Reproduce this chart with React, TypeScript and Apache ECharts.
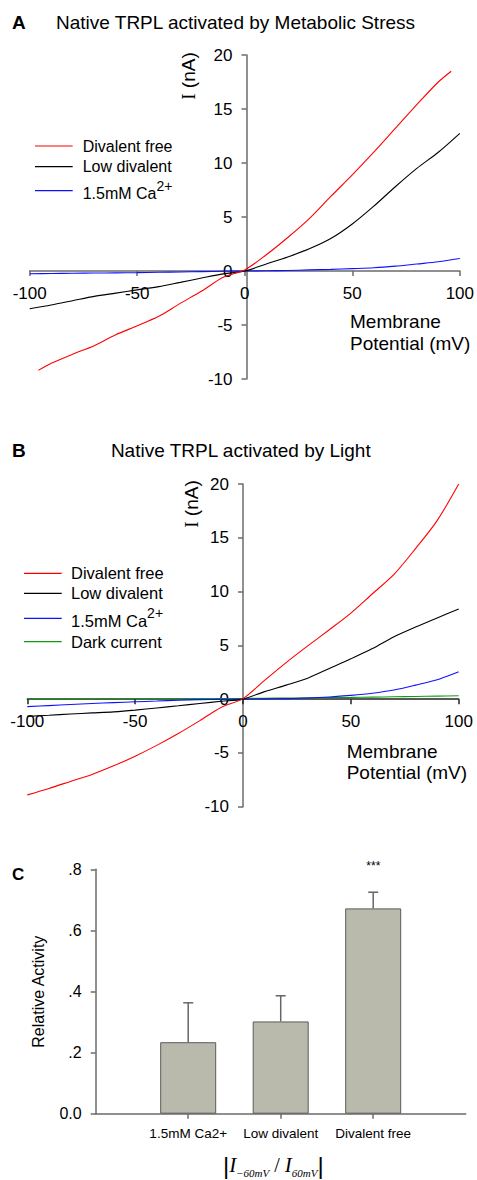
import React, { useEffect, useRef } from "react";
import * as echarts from "echarts";

// ---------- data ----------
const voltages = [-100, -90, -80, -70, -60, -50, -40, -30, -20, -10, 0, 10, 20, 30, 40, 50, 60, 70, 80, 90, 100];
const voltagesRedA = [-96, -90, -80, -70, -60, -50, -40, -30, -20, -10, 0, 10, 20, 30, 40, 50, 60, 70, 80, 90, 96];

// Panel A: Native TRPL activated by Metabolic Stress (I in nA)
const redA = [-9.2, -8.55, -7.7, -6.92, -5.9, -5.08, -4.2, -3.0, -1.85, -0.58, 0.1, 1.5, 3.1, 4.85, 6.9, 8.9, 11.0, 13.2, 15.4, 17.5, 18.5];
const blackA = [-3.5, -3.15, -2.75, -2.35, -2.05, -1.75, -1.45, -1.05, -0.65, -0.27, 0, 0.65, 1.3, 2.05, 3.0, 4.35, 6.0, 7.8, 9.5, 11.0, 12.75];
const blueA = [-0.25, -0.23, -0.21, -0.19, -0.17, -0.15, -0.12, -0.09, -0.06, -0.03, 0, 0.02, 0.05, 0.1, 0.15, 0.22, 0.3, 0.45, 0.65, 0.85, 1.15];

// Panel B: Native TRPL activated by Light (I in nA)
const redB = [-8.9, -8.3, -7.65, -7.0, -6.2, -5.3, -4.3, -3.2, -2.0, -0.75, 0.05, 1.75, 3.4, 4.95, 6.45, 8.0, 9.8, 11.6, 14.0, 16.6, 20.0];
const blackB = [-1.6, -1.5, -1.38, -1.28, -1.18, -1.02, -0.82, -0.62, -0.4, -0.2, 0, 0.7, 1.3, 1.95, 2.85, 3.75, 4.7, 5.8, 6.7, 7.55, 8.37];
const blueB = [-0.7, -0.6, -0.5, -0.4, -0.32, -0.25, -0.18, -0.1, -0.05, -0.02, 0, 0.02, 0.05, 0.1, 0.2, 0.35, 0.55, 0.85, 1.3, 1.8, 2.55];
const greenB = [0.06, 0.06, 0.06, 0.06, 0.06, 0.06, 0.06, 0.06, 0.06, 0.06, 0.06, 0.08, 0.1, 0.12, 0.14, 0.16, 0.19, 0.22, 0.25, 0.28, 0.31];

// Panel C: relative activity |I-60mV / I60mV|
const barCategories = ["1.5mM Ca2+", "Low divalent", "Divalent free"];
const barPositions = [1, 2, 3];
const barValues = [0.234, 0.302, 0.672];
const barErrorTops = [0.363, 0.386, 0.725];

const legendA = ["Divalent free", "Low divalent", "1.5mM Ca"];
const legendB = ["Divalent free", "Low divalent", "1.5mM Ca", "Dark current"];

// ---------- styles ----------
const SANS = "Liberation Sans, Arial, sans-serif";
const SERIF = "Liberation Serif, Times New Roman, serif";
const AXIS_GREY = "#6b6b6b";
const RED = "#ff0000";
const BLACK = "#000000";
const BLUE = "#1010ff";
const GREEN = "#119a11";

const X_MIN = -100, X_MAX = 100, Y_MIN = -10, Y_MAX = 20;

const gridA = { left: 29.7, top: 55, width: 433.6, height: 324 };
const gridB = { left: 27.3, top: 484, width: 431.4, height: 322.7 };
const gridC = { left: 95.7, top: 869.3, width: 370, height: 244.4 };

// offsets so that the axes cross at the origin (labels travel with them)
function xOffset(g: any) {
  return -(g.height * (0 - Y_MIN)) / (Y_MAX - Y_MIN);
}
function yOffset(g: any) {
  return -(g.width * (0 - X_MIN)) / (X_MAX - X_MIN);
}

function ivX(gridIndex: number, g: any, lineColor: string) {
  return {
    type: "value",
    gridIndex,
    min: X_MIN,
    max: X_MAX,
    interval: 50,
    position: "bottom",
    offset: xOffset(g),
    axisLine: { show: true, onZero: false, lineStyle: { color: lineColor, width: 1.5 } },
    axisTick: { show: true, length: 5, lineStyle: { color: lineColor, width: 1.5 } },
    axisLabel: { fontSize: 17, color: "#000", margin: 14, fontFamily: SANS },
    splitLine: { show: false },
  };
}

function ivY(gridIndex: number, g: any) {
  return {
    type: "value",
    gridIndex,
    min: Y_MIN,
    max: Y_MAX,
    interval: 5,
    position: "left",
    offset: yOffset(g),
    axisLine: { show: true, onZero: false, lineStyle: { color: AXIS_GREY, width: 1.5 } },
    axisTick: { show: true, length: 5, lineStyle: { color: AXIS_GREY, width: 1.5 } },
    axisLabel: { fontSize: 17, color: "#000", margin: 14, fontFamily: SANS },
    splitLine: { show: false },
  };
}

function lineSeries(name: string, xs: number[], ys: number[], color: string, idx: number) {
  return {
    type: "line",
    name,
    xAxisIndex: idx,
    yAxisIndex: idx,
    data: xs.map((v, i) => [v, ys[i]]),
    showSymbol: false,
    symbol: "none",
    smooth: 0.3,
    lineStyle: { color, width: 1.1 },
    itemStyle: { color },
    z: 3,
  };
}

function txt(x: number, y: number, text: string, extra: any = {}) {
  const align = extra.align || "left";
  const va = extra.verticalAlign || "middle";
  const { rotation, ...rest } = extra;
  return {
    type: "text",
    x,
    y,
    rotation: rotation || 0,
    z: 10,
    style: {
      text,
      fontSize: 16,
      fontFamily: SANS,
      fill: "#000",
      ...rest,
      align,
      textAlign: align,
      verticalAlign: va,
      textVerticalAlign: va,
    },
  };
}

function legendLine(x1: number, x2: number, y: number, color: string) {
  return {
    type: "line",
    z: 10,
    shape: { x1, y1: y, x2, y2: y },
    style: { stroke: color, lineWidth: 1.2 },
  };
}

const supRich = { sup: { fontSize: 14, fontFamily: SANS, fill: "#000", padding: [0, 0, 16, 0] } };

export default function App() {
  const ref = useRef<HTMLDivElement>(null);

  useEffect(() => {
    if (!ref.current) return;
    const chart = echarts.init(ref.current, undefined, { renderer: "svg" });

    const option: any = {
      animation: false,
      backgroundColor: "#ffffff",
      grid: [gridA, gridB, gridC],
      xAxis: [
        ivX(0, gridA, AXIS_GREY),
        ivX(1, gridB, "#222222"),
        {
          type: "value",
          gridIndex: 2,
          min: 0,
          max: 4,
          axisLine: { show: true, onZero: false, lineStyle: { color: AXIS_GREY, width: 1.5 } },
          axisTick: { show: true, length: 5, customValues: barPositions, lineStyle: { color: AXIS_GREY, width: 1.5 } },
          axisLabel: {
            customValues: barPositions,
            formatter: (v: number) => barCategories[barPositions.indexOf(v)] ?? "",
            fontSize: 13.5,
            color: "#000",
            margin: 13,
            fontFamily: SANS,
          },
          splitLine: { show: false },
        },
      ],
      yAxis: [
        ivY(0, gridA),
        ivY(1, gridB),
        {
          type: "value",
          gridIndex: 2,
          min: 0,
          max: 0.8,
          interval: 0.2,
          axisLine: { show: true, onZero: false, lineStyle: { color: AXIS_GREY, width: 1.5 } },
          axisTick: { show: true, length: 5, lineStyle: { color: AXIS_GREY, width: 1.5 } },
          axisLabel: {
            formatter: (v: number) => (v === 0 ? "0.0" : "." + Math.round(v * 10)),
            fontSize: 16,
            color: "#000",
            margin: 14,
            fontFamily: SANS,
          },
          splitLine: { show: false },
        },
      ],
      series: [
        lineSeries("1.5mM Ca2+ A", voltages, blueA, BLUE, 0),
        lineSeries("Low divalent A", voltages, blackA, BLACK, 0),
        lineSeries("Divalent free A", voltagesRedA, redA, RED, 0),
        lineSeries("Dark current B", voltages, greenB, GREEN, 1),
        lineSeries("1.5mM Ca2+ B", voltages, blueB, BLUE, 1),
        lineSeries("Low divalent B", voltages, blackB, BLACK, 1),
        lineSeries("Divalent free B", voltages, redB, RED, 1),
        {
          type: "bar",
          name: "Relative activity",
          xAxisIndex: 2,
          yAxisIndex: 2,
          data: barPositions.map((p, i) => [p, barValues[i]]),
          barWidth: 56,
          itemStyle: { color: "#b9b9ac", borderColor: "#5a5a5a", borderWidth: 1 },
          z: 2,
        },
        {
          type: "custom",
          name: "error",
          xAxisIndex: 2,
          yAxisIndex: 2,
          data: barPositions.map((p, i) => [p, barValues[i], barErrorTops[i]]),
          encode: { x: 0, y: [1, 2] },
          z: 3,
          renderItem: (params: any, api: any) => {
            const x = api.value(0);
            const lo = api.coord([x, api.value(1)]);
            const hi = api.coord([x, api.value(2)]);
            const cap = 5;
            return {
              type: "group",
              children: [
                { type: "line", shape: { x1: lo[0], y1: lo[1], x2: hi[0], y2: hi[1] }, style: { stroke: "#666", lineWidth: 1.5 } },
                { type: "line", shape: { x1: hi[0] - cap, y1: hi[1], x2: hi[0] + cap, y2: hi[1] }, style: { stroke: "#666", lineWidth: 1.5 } },
              ],
            };
          },
        },
      ],
      graphic: [
        // Panel A
        txt(12, 22.5, "A", { fontSize: 19, fontWeight: "bold" }),
        txt(56, 22.7, "Native TRPL activated by Metabolic Stress", { fontSize: 19 }),
        txt(188, 76, "{i|I} (nA)", {
          fontSize: 19,
          align: "center",
          rotation: Math.PI / 2,
          rich: { i: { fontSize: 19, fontFamily: SERIF, fill: "#000" } },
        }),
        txt(350, 321.6, "Membrane", { fontSize: 19 }),
        txt(350, 343.3, "Potential (mV)", { fontSize: 19 }),
        legendLine(35, 72.7, 146, RED),
        legendLine(35, 72.7, 166.7, BLACK),
        legendLine(35, 72.7, 190.7, BLUE),
        txt(82.7, 146.2, legendA[0]),
        txt(82.7, 166.7, legendA[1]),
        txt(82.7, 193.8, legendA[2] + "{sup|2+}", { rich: supRich }),

        // Panel B
        txt(12, 450, "B", { fontSize: 19, fontWeight: "bold" }),
        txt(240.8, 450, "Native TRPL activated by Light", { fontSize: 19, align: "center" }),
        txt(191.7, 504, "{i|I} (nA)", {
          fontSize: 19,
          align: "center",
          rotation: Math.PI / 2,
          rich: { i: { fontSize: 19, fontFamily: SERIF, fill: "#000" } },
        }),
        txt(346.7, 751.6, "Membrane", { fontSize: 19 }),
        txt(346.7, 772.6, "Potential (mV)", { fontSize: 19 }),
        legendLine(24, 61.7, 573.3, RED),
        legendLine(24, 61.7, 593.3, BLACK),
        legendLine(24, 61.7, 618.3, BLUE),
        legendLine(24, 61.7, 641.7, GREEN),
        txt(71, 573.3, legendB[0], { fontSize: 16.5 }),
        txt(71, 593.3, legendB[1], { fontSize: 16.5 }),
        txt(71, 620.8, legendB[2] + "{sup|2+}", { fontSize: 16.5, rich: supRich }),
        txt(71, 641.7, legendB[3], { fontSize: 16.5 }),

        // Panel C
        txt(12, 874, "C", { fontSize: 17, fontWeight: "bold" }),
        txt(38, 991.7, "Relative Activity", { fontSize: 16, align: "center", rotation: Math.PI / 2 }),
        txt(373.3, 866, "***", { fontSize: 12, align: "center" }),
        txt(273.3, 1165, "{b|\u007C}{I|I}{s|\u221260mV}{o| / }{I|I}{s|60mV}{b|\u007C}", {
          align: "center",
          rich: {
            b: { fontSize: 24, fontFamily: SANS, fill: "#000" },
            I: { fontSize: 21, fontFamily: SERIF, fontStyle: "italic", fill: "#000" },
            o: { fontSize: 20, fontFamily: SERIF, fill: "#000" },
            s: { fontSize: 11, fontFamily: SERIF, fontStyle: "italic", fill: "#000", padding: [16, 0, 0, 0] },
          },
        }),
      ],
    };

    chart.setOption(option);
    return () => chart.dispose();
  }, []);

  return (
    <div
      ref={ref}
      style={{ position: "absolute", left: 0, top: 0, width: 477, height: 1180, background: "#fff" }}
    />
  );
}
